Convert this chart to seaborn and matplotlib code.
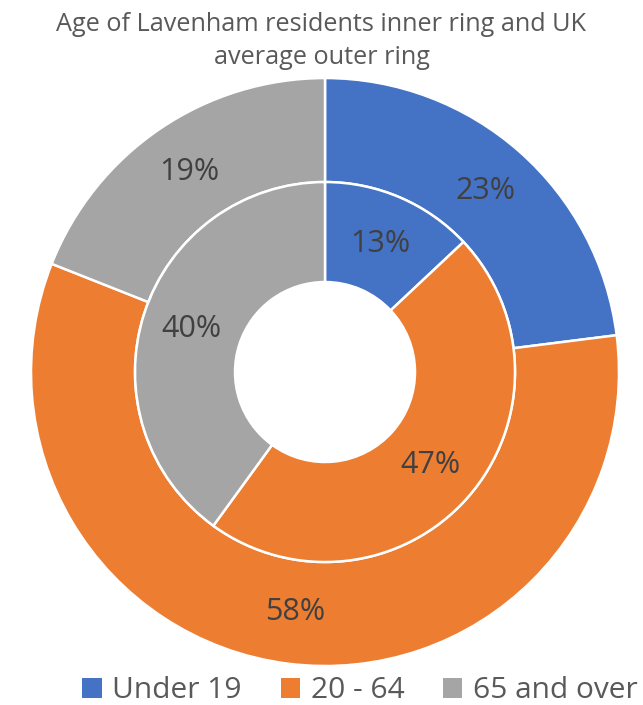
import matplotlib
matplotlib.use("Agg")
import matplotlib.pyplot as plt
import seaborn as sns
from matplotlib.patches import Patch

categories = ["Under 19", "20 - 64", "65 and over"]
uk_outer = [23, 58, 19]
lavenham_inner = [13, 47, 40]
colors = ["#4472C4", "#ED7D31", "#A5A5A5"]
title = "Age of Lavenham residents inner ring and UK\naverage outer ring"

sns.set_theme(style="white")
plt.rcParams['font.family'] = ['Open Sans', 'DejaVu Sans']
palette = sns.color_palette(colors)

fig = plt.figure(figsize=(6.43, 7.05), dpi=100)
ax = fig.add_axes([0.0482, 0.0553, 0.9145, 0.834])

txtc = "#404040"
outer_w = 104 / 294
inner_r = 190 / 294
inner_w = 100 / 294

w1, t1, a1 = ax.pie(uk_outer, radius=1.0, colors=palette, startangle=90, counterclock=False,
                    autopct="%d%%", pctdistance=1 - outer_w / 2,
                    wedgeprops=dict(width=outer_w, edgecolor="white", linewidth=1.8),
                    textprops=dict(color=txtc, fontsize=22))
w2, t2, a2 = ax.pie(lavenham_inner, radius=inner_r, colors=palette, startangle=90, counterclock=False,
                    autopct="%d%%", pctdistance=(inner_r - inner_w / 2) / inner_r,
                    wedgeprops=dict(width=inner_w, edgecolor="white", linewidth=1.8),
                    textprops=dict(color=txtc, fontsize=22))
ax.set_xlim(-1, 1)
ax.set_ylim(-1, 1)
ax.set_aspect("equal")
ax.axis("off")

fig.text(0.5, 1 - 41 / 705, title, ha="center", va="center", fontsize=18.2,
         color="#595959", linespacing=1.38)

handles = [Patch(facecolor=c, edgecolor="none") for c in colors]
fig.legend(handles, categories, loc="center", bbox_to_anchor=(0.56, 1 - 691 / 705), ncol=3,
           frameon=False, fontsize=21.5, handlelength=0.65, handleheight=0.65, handletextpad=0.35,
           columnspacing=1.3, labelcolor="#595959", borderpad=0, borderaxespad=0)

fig.savefig("out.png", dpi=100, facecolor="white")
